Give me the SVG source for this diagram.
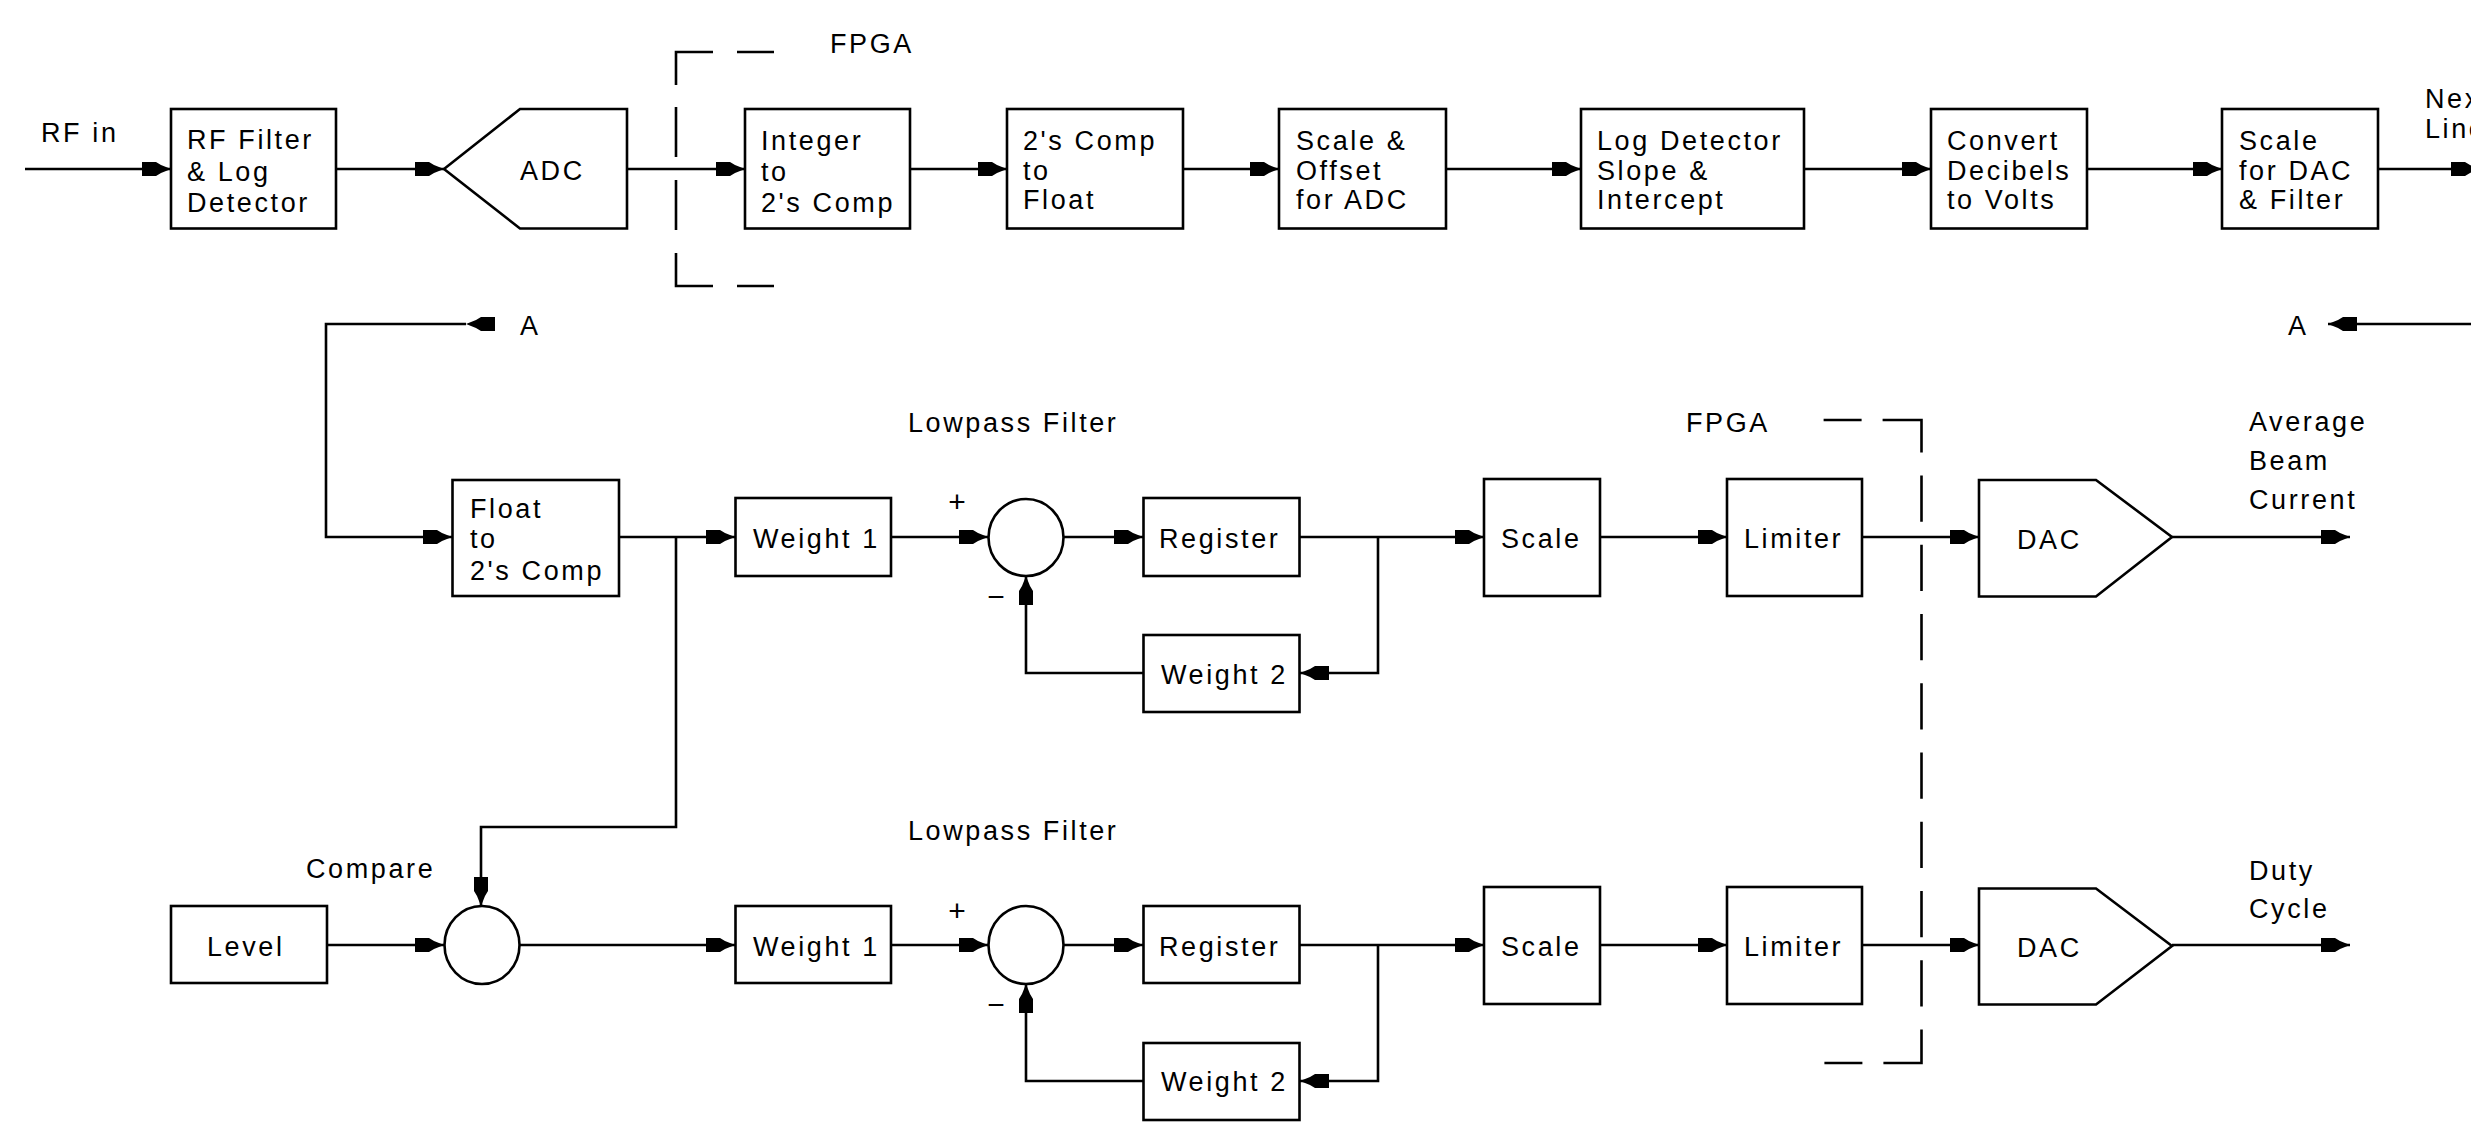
<svg xmlns="http://www.w3.org/2000/svg" width="2471" height="1125" viewBox="0 0 2471 1125">
<style>
  .bx { fill: #fff; stroke: #000; stroke-width: 2.6; }
  .ln { fill: none; stroke: #000; stroke-width: 2.6; }
  .dash { fill: none; stroke: #000; stroke-width: 2.6; }
  text { font-family: "Liberation Sans", Arial, sans-serif; font-size: 27px; letter-spacing: 2.6px; fill: #000; }
  .pm { letter-spacing: 0; font-size: 30px; }
</style>
<defs>
  <marker id="arr" markerUnits="userSpaceOnUse" viewBox="-32 -8 34 16" refX="0" refY="0" markerWidth="34" markerHeight="16" orient="auto" overflow="visible">
    <polygon points="0,0 -10,-4 -15,-7 -29,-7 -29,7 -15,7 -10,4" fill="#000"/>
  </marker>
</defs>
<rect width="2471" height="1125" fill="#fff"/>

<!-- FPGA boundaries -->
<g id="fpga-top">
  <path class="dash" d="M774,52 H676 V286 H774" stroke-dasharray="37 24 70 22 50 23 50 23 70 24 37"/>
  <text x="830" y="53">FPGA</text>
</g>
<g id="fpga-right">
  <path class="dash" d="M1823.6,420 H1921.5 V1063 H1823.6" stroke-dasharray="38 21 71.5 23 46.25 23 46.25 23 46.25 23 46.25 23 46.25 23 46.25 23 46.25 23 46.25 23 71.5 21 38"/>
  <text x="1686" y="432">FPGA</text>
</g>

<!-- Connectors -->
<g id="connectors">
  <!-- top row -->
  <path class="ln" d="M25,169 H171" marker-end="url(#arr)"/>
  <path class="ln" d="M336,169 H444" marker-end="url(#arr)"/>
  <path class="ln" d="M627,169 H745" marker-end="url(#arr)"/>
  <path class="ln" d="M910,169 H1007" marker-end="url(#arr)"/>
  <path class="ln" d="M1183,169 H1279" marker-end="url(#arr)"/>
  <path class="ln" d="M1446,169 H1581" marker-end="url(#arr)"/>
  <path class="ln" d="M1804,169 H1931" marker-end="url(#arr)"/>
  <path class="ln" d="M2087,169 H2222" marker-end="url(#arr)"/>
  <path class="ln" d="M2378,169 H2480" marker-end="url(#arr)"/>
  <!-- off-page connector A -->
  <path class="ln" d="M2480,324 H2328" marker-end="url(#arr)"/>
  <path class="ln" d="M466,324 H326 V537 H452" marker-start="url(#arr)" marker-end="url(#arr)"/>
  <!-- middle row -->
  <path class="ln" d="M619,537 H735" marker-end="url(#arr)"/>
  <path class="ln" d="M891,537 H988" marker-end="url(#arr)"/>
  <path class="ln" d="M1064,537 H1143" marker-end="url(#arr)"/>
  <path class="ln" d="M1300,537 H1484" marker-end="url(#arr)"/>
  <path class="ln" d="M1378,537 V673 H1300" marker-end="url(#arr)"/>
  <path class="ln" d="M1143,673 H1026 V576" marker-end="url(#arr)"/>
  <path class="ln" d="M1600,537 H1727" marker-end="url(#arr)"/>
  <path class="ln" d="M1862,537 H1979" marker-end="url(#arr)"/>
  <path class="ln" d="M2172,537 H2350" marker-end="url(#arr)"/>
  <!-- branch to compare -->
  <path class="ln" d="M676,537 V827 H481 V906" marker-end="url(#arr)"/>
  <!-- bottom row -->
  <path class="ln" d="M327,945 H444" marker-end="url(#arr)"/>
  <path class="ln" d="M520,945 H735" marker-end="url(#arr)"/>
  <path class="ln" d="M891,945 H988" marker-end="url(#arr)"/>
  <path class="ln" d="M1064,945 H1143" marker-end="url(#arr)"/>
  <path class="ln" d="M1300,945 H1484" marker-end="url(#arr)"/>
  <path class="ln" d="M1378,945 V1081 H1300" marker-end="url(#arr)"/>
  <path class="ln" d="M1143,1081 H1026 V984" marker-end="url(#arr)"/>
  <path class="ln" d="M1600,945 H1727" marker-end="url(#arr)"/>
  <path class="ln" d="M1862,945 H1979" marker-end="url(#arr)"/>
  <path class="ln" d="M2172,945 H2350" marker-end="url(#arr)"/>
</g>

<!-- Labels -->
<g id="labels">
  <text x="41" y="142">RF in</text>
  <text x="2425" y="108">Next</text>
  <text x="2425" y="138">Line</text>
  <text x="2288" y="335">A</text>
  <text x="520" y="335">A</text>
  <text x="908" y="432">Lowpass Filter</text>
  <text x="908" y="840">Lowpass Filter</text>
  <text x="306" y="878">Compare</text>
  <text class="pm" x="957" y="512" text-anchor="middle">+</text>
  <text class="pm" x="996" y="607" text-anchor="middle">−</text>
  <text class="pm" x="957" y="921" text-anchor="middle">+</text>
  <text class="pm" x="996" y="1015" text-anchor="middle">−</text>
  <text x="2249" y="431">Average</text>
  <text x="2249" y="470">Beam</text>
  <text x="2249" y="509">Current</text>
  <text x="2249" y="880">Duty</text>
  <text x="2249" y="918">Cycle</text>
</g>

<!-- Top row nodes -->
<g id="rf-filter">
  <rect class="bx" x="171" y="109" width="165" height="119.5"/>
  <text x="187" y="149">RF Filter</text>
  <text x="187" y="181">&amp; Log</text>
  <text x="187" y="212">Detector</text>
</g>
<g id="adc">
  <polygon class="bx" points="444,169 520,109 627,109 627,228.5 520,228.5"/>
  <text x="520" y="180">ADC</text>
</g>
<g id="int-to-2s">
  <rect class="bx" x="745" y="109" width="165" height="119.5"/>
  <text x="761" y="150">Integer</text>
  <text x="761" y="181">to</text>
  <text x="761" y="212">2's Comp</text>
</g>
<g id="2s-to-float">
  <rect class="bx" x="1007" y="109" width="176" height="119.5"/>
  <text x="1023" y="150">2's Comp</text>
  <text x="1023" y="180">to</text>
  <text x="1023" y="209">Float</text>
</g>
<g id="scale-offset">
  <rect class="bx" x="1279" y="109" width="167" height="119.5"/>
  <text x="1296" y="150">Scale &amp;</text>
  <text x="1296" y="180">Offset</text>
  <text x="1296" y="209">for ADC</text>
</g>
<g id="log-slope">
  <rect class="bx" x="1581" y="109" width="223" height="119.5"/>
  <text x="1597" y="150">Log Detector</text>
  <text x="1597" y="180">Slope &amp;</text>
  <text x="1597" y="209">Intercept</text>
</g>
<g id="db-to-volts">
  <rect class="bx" x="1931" y="109" width="156" height="119.5"/>
  <text x="1947" y="150">Convert</text>
  <text x="1947" y="180">Decibels</text>
  <text x="1947" y="209">to Volts</text>
</g>
<g id="scale-dac">
  <rect class="bx" x="2222" y="109" width="156" height="119.5"/>
  <text x="2239" y="150">Scale</text>
  <text x="2239" y="180">for DAC</text>
  <text x="2239" y="209">&amp; Filter</text>
</g>

<!-- Middle row nodes -->
<g id="float-to-2s">
  <rect class="bx" x="452.5" y="480" width="166.5" height="116"/>
  <text x="470" y="518">Float</text>
  <text x="470" y="548">to</text>
  <text x="470" y="580">2's Comp</text>
</g>
<g id="weight1-a">
  <rect class="bx" x="735.5" y="498" width="155.5" height="78"/>
  <text x="753" y="548">Weight 1</text>
</g>
<g id="sum-a">
  <ellipse class="bx" cx="1026" cy="537.5" rx="37.5" ry="38.5"/>
</g>
<g id="register-a">
  <rect class="bx" x="1143.5" y="498" width="156" height="78"/>
  <text x="1159" y="548">Register</text>
</g>
<g id="weight2-a">
  <rect class="bx" x="1143.5" y="635" width="156" height="77"/>
  <text x="1161" y="684">Weight 2</text>
</g>
<g id="scale-a">
  <rect class="bx" x="1484" y="479" width="116" height="117"/>
  <text x="1501" y="548">Scale</text>
</g>
<g id="limiter-a">
  <rect class="bx" x="1727" y="479" width="135" height="117"/>
  <text x="1744" y="548">Limiter</text>
</g>
<g id="dac-a">
  <polygon class="bx" points="1979,480 2096,480 2172,537 2096,596.5 1979,596.5"/>
  <text x="2017" y="549">DAC</text>
</g>

<!-- Bottom row nodes -->
<g id="level">
  <rect class="bx" x="171" y="906" width="156" height="77"/>
  <text x="207" y="956">Level</text>
</g>
<g id="compare">
  <ellipse class="bx" cx="482" cy="945" rx="37.5" ry="39"/>
</g>
<g id="weight1-b">
  <rect class="bx" x="735.5" y="906" width="155.5" height="77"/>
  <text x="753" y="956">Weight 1</text>
</g>
<g id="sum-b">
  <ellipse class="bx" cx="1026" cy="945" rx="37.5" ry="39"/>
</g>
<g id="register-b">
  <rect class="bx" x="1143.5" y="906" width="156" height="77"/>
  <text x="1159" y="956">Register</text>
</g>
<g id="weight2-b">
  <rect class="bx" x="1143.5" y="1043" width="156" height="77"/>
  <text x="1161" y="1091">Weight 2</text>
</g>
<g id="scale-b">
  <rect class="bx" x="1484" y="887" width="116" height="117"/>
  <text x="1501" y="956">Scale</text>
</g>
<g id="limiter-b">
  <rect class="bx" x="1727" y="887" width="135" height="117"/>
  <text x="1744" y="956">Limiter</text>
</g>
<g id="dac-b">
  <polygon class="bx" points="1979,888.5 2096,888.5 2172,946 2096,1004.5 1979,1004.5"/>
  <text x="2017" y="957">DAC</text>
</g>
</svg>
